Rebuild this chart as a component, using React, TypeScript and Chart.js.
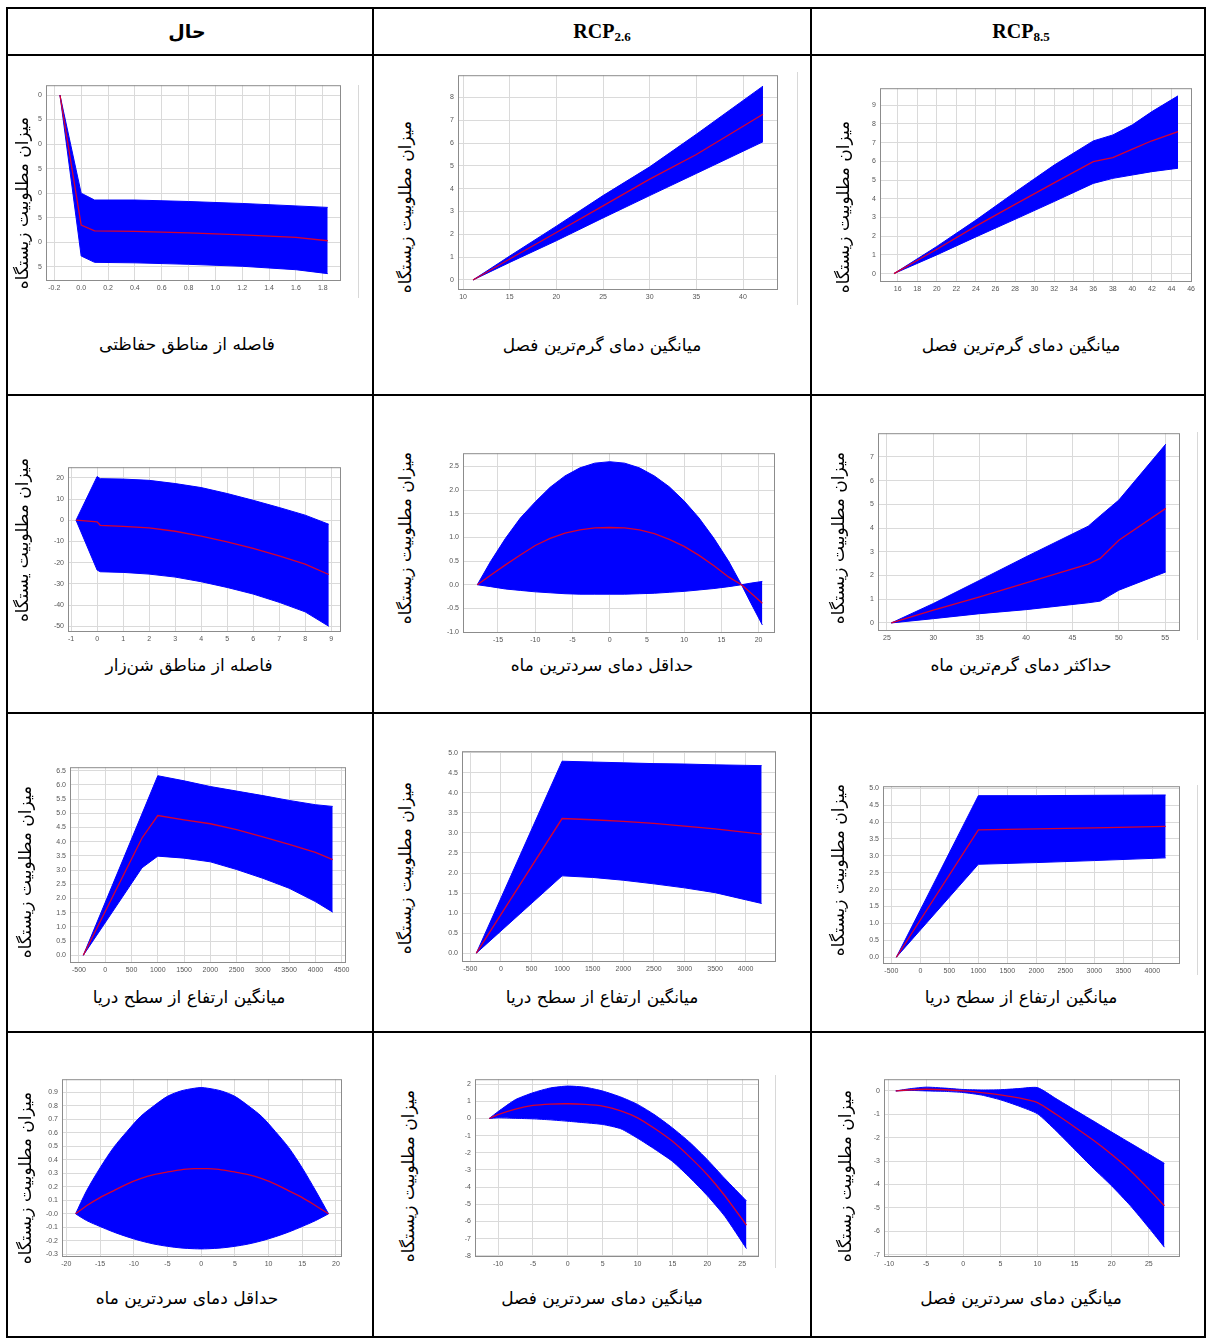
import React, { useEffect, useRef } from 'react';
import { Chart, registerables } from 'chart.js';
Chart.register(...registerables);

// ---------------- DATA ----------------
// Panel 1: distance from protected areas (present)
const c1X = [-0.158, 0.0, 0.1, 0.4, 0.8, 1.2, 1.6, 1.837];
const c1Upper = [2.0, 0.0, -0.14, -0.14, -0.17, -0.21, -0.26, -0.29];
const c1Mean = [2.0, -0.65, -0.77, -0.78, -0.81, -0.85, -0.9, -0.97];
const c1Lower = [2.0, -1.28, -1.41, -1.42, -1.45, -1.49, -1.56, -1.64];
const c1XTicks = [-0.2, 0, 0.2, 0.4, 0.6, 0.8, 1.0, 1.2, 1.4, 1.6, 1.8];
const c1YTicks = [-1.5, -1, -0.5, 0, 0.5, 1, 1.5, 2];
const c1YLabels = ['5', '0', '5', '0', '5', '0', '5', '0'];

// Panel 2: mean temp warmest quarter (RCP2.6)
const c2X = [11.07, 15, 20, 25, 30, 35, 42.14];
const c2Upper = [0, 1.05, 2.36, 3.7, 4.96, 6.39, 8.5];
const c2Mean = [0, 0.92, 2.08, 3.25, 4.42, 5.5, 7.27];
const c2Lower = [0, 0.77, 1.72, 2.72, 3.7, 4.67, 6.06];
const c2XTicks = [10, 15, 20, 25, 30, 35, 40];
const c2YTicks = [0, 1, 2, 3, 4, 5, 6, 7, 8];

// Panel 3: mean temp warmest quarter (RCP8.5)
const c3X = [15.62, 20, 24, 28, 32, 36, 38, 40, 42, 44.67];
const c3Upper = [0, 1.45, 2.86, 4.35, 5.8, 7.09, 7.41, 7.95, 8.66, 9.5];
const c3Mean = [0, 1.3, 2.54, 3.7, 4.85, 5.98, 6.2, 6.65, 7.1, 7.59];
const c3Lower = [0, 1.0, 1.96, 2.9, 3.85, 4.82, 5.09, 5.27, 5.45, 5.63];
const c3XTicks = [16, 18, 20, 22, 24, 26, 28, 30, 32, 34, 36, 38, 40, 42, 44, 46];
const c3YTicks = [0, 1, 2, 3, 4, 5, 6, 7, 8, 9];

// Panel 4: distance from sand areas (present)
const c4X = [-0.81, 0, 0.12, 1, 2, 3, 4, 5, 6, 7, 8, 8.91];
const c4Upper = [0, 20.6, 19.6, 19.4, 18.8, 17.3, 15.4, 12.6, 9.4, 6.0, 2.4, -1.9];
const c4Mean = [0, -0.8, -2.4, -2.9, -3.6, -5.2, -7.5, -10.2, -13.3, -16.8, -20.7, -25.6];
const c4Lower = [0, -23.5, -24.3, -24.6, -25.4, -26.8, -29, -31.7, -34.8, -38.7, -43.2, -50];
const c4XTicks = [-1, 0, 1, 2, 3, 4, 5, 6, 7, 8, 9];
const c4YTicks = [-50, -40, -30, -20, -10, 0, 10, 20];

// Panel 5: min temp coldest month (RCP2.6)
const c5X = [-17.78, -16, -14, -12, -10, -8, -6, -4, -2, 0, 2, 4, 6, 8, 10, 12, 14, 16, 17.7, 19, 20.5];
const c5Upper = [0, 0.49, 0.98, 1.41, 1.75, 2.06, 2.3, 2.47, 2.57, 2.6, 2.57, 2.47, 2.3, 2.07, 1.77, 1.41, 0.98, 0.49, 0, 0.035, 0.07];
const c5Mean = [0, 0.2, 0.42, 0.63, 0.83, 0.98, 1.09, 1.16, 1.2, 1.21, 1.2, 1.16, 1.08, 0.96, 0.81, 0.62, 0.4, 0.16, 0, -0.18, -0.39];
const c5Lower = [0, -0.04, -0.09, -0.12, -0.15, -0.17, -0.19, -0.2, -0.2, -0.2, -0.2, -0.19, -0.18, -0.16, -0.14, -0.11, -0.08, -0.04, 0, -0.4, -0.85];
const c5XTicks = [-15, -10, -5, 0, 5, 10, 15, 20];
const c5YTicks = [-1, -0.5, 0, 0.5, 1, 1.5, 2, 2.5];

// Panel 6: max temp warmest month (RCP8.5)
const c6X = [25.47, 30, 35, 40, 46.7, 48, 50, 55.07];
const c6Upper = [0, 0.82, 1.8, 2.79, 4.08, 4.52, 5.18, 7.54];
const c6Mean = [0, 0.54, 1.1, 1.69, 2.48, 2.72, 3.49, 4.83];
const c6Lower = [0, 0.18, 0.39, 0.56, 0.85, 0.92, 1.38, 2.15];
const c6XTicks = [25, 30, 35, 40, 45, 50, 55];
const c6YTicks = [0, 1, 2, 3, 4, 5, 6, 7];

// Panel 7: mean elevation (present)
const c7X = [-418, 700, 1000, 1500, 2000, 2500, 3000, 3500, 4000, 4329];
const c7Upper = [0, 4.98, 6.32, 6.14, 5.94, 5.78, 5.62, 5.45, 5.3, 5.24];
const c7Mean = [0, 4.13, 4.92, 4.77, 4.63, 4.42, 4.17, 3.9, 3.62, 3.37];
const c7Lower = [0, 3.08, 3.49, 3.42, 3.29, 3.02, 2.71, 2.36, 1.89, 1.52];
const c7XTicks = [-500, 0, 500, 1000, 1500, 2000, 2500, 3000, 3500, 4000, 4500];
const c7YTicks = [0, 0.5, 1, 1.5, 2, 2.5, 3, 3.5, 4, 4.5, 5, 5.5, 6, 6.5];

// Panel 8: mean elevation (RCP2.6)
const c8X = [-402, 1000, 1500, 2000, 2500, 3000, 3500, 4262];
const c8Upper = [0, 4.79, 4.77, 4.75, 4.73, 4.72, 4.7, 4.68];
const c8Mean = [0, 3.36, 3.33, 3.29, 3.24, 3.17, 3.1, 2.97];
const c8Lower = [0, 1.93, 1.89, 1.82, 1.73, 1.63, 1.51, 1.24];
const c8XTicks = [-500, 0, 500, 1000, 1500, 2000, 2500, 3000, 3500, 4000];
const c8YTicks = [0, 0.5, 1, 1.5, 2, 2.5, 3, 3.5, 4, 4.5, 5];

// Panel 9: mean elevation (RCP8.5)
const c9X = [-414, 1000, 2000, 3000, 4230];
const c9Upper = [0, 4.78, 4.78, 4.79, 4.8];
const c9Mean = [0, 3.77, 3.8, 3.83, 3.87];
const c9Lower = [0, 2.75, 2.8, 2.86, 2.94];
const c9XTicks = [-500, 0, 500, 1000, 1500, 2000, 2500, 3000, 3500, 4000];
const c9YTicks = [0, 0.5, 1, 1.5, 2, 2.5, 3, 3.5, 4, 4.5, 5];

// Panel 10: min temp coldest month (present)
const c10X = [-18.62, -17, -15, -13, -11, -9, -7, -5, -3, -1, 0, 1, 3, 5, 7, 9, 11, 13, 15, 17, 18.9];
const c10Upper = [0, 0.17, 0.34, 0.49, 0.61, 0.72, 0.8, 0.87, 0.91, 0.93, 0.935, 0.93, 0.91, 0.87, 0.8, 0.72, 0.61, 0.49, 0.34, 0.17, 0];
const c10Mean = [0, 0.06, 0.12, 0.17, 0.22, 0.26, 0.29, 0.31, 0.326, 0.334, 0.335, 0.334, 0.326, 0.31, 0.29, 0.26, 0.22, 0.17, 0.12, 0.06, 0];
const c10Lower = [0, -0.05, -0.094, -0.135, -0.17, -0.2, -0.224, -0.241, -0.253, -0.259, -0.26, -0.259, -0.253, -0.241, -0.224, -0.2, -0.17, -0.135, -0.094, -0.05, 0];
const c10XTicks = [-20, -15, -10, -5, 0, 5, 10, 15, 20];
const c10YTicks = [-0.3, -0.2, -0.1, 0, 0.1, 0.2, 0.3, 0.4, 0.5, 0.6, 0.7, 0.8, 0.9];
const c10YLabels = ['-0.3', '-0.2', '-0.1', '-0.0', '0.1', '0.2', '0.3', '0.4', '0.5', '0.6', '0.7', '0.8', '0.9'];

// Panel 11: mean temp coldest quarter (RCP2.6)
const c11X = [-11.27, -10, -7.5, -5, -2.5, 0, 2.5, 5, 7.6, 10, 12.5, 15, 17.5, 20, 22.5, 25.6];
const c11Upper = [0, 0.4, 1.1, 1.5, 1.78, 1.89, 1.82, 1.6, 1.25, 0.82, 0.2, -0.55, -1.4, -2.4, -3.5, -4.8];
const c11Mean = [0, 0.23, 0.55, 0.76, 0.84, 0.86, 0.82, 0.72, 0.45, 0.04, -0.6, -1.33, -2.25, -3.28, -4.5, -6.21];
const c11Lower = [0, 0.04, 0.01, -0.02, -0.08, -0.16, -0.25, -0.35, -0.6, -1.15, -1.8, -2.5, -3.45, -4.5, -5.7, -7.58];
const c11XTicks = [-10, -5, 0, 5, 10, 15, 20, 25];
const c11YTicks = [-8, -7, -6, -5, -4, -3, -2, -1, 0, 1, 2];

// Panel 12: mean temp coldest quarter (RCP8.5)
const c12X = [-9.08, -7, -5, -2.5, 0, 2.5, 5, 7.5, 10, 12.5, 15, 17.5, 20, 22.5, 25, 27.1];
const c12Upper = [0, 0.1, 0.16, 0.12, 0.06, 0.04, 0.05, 0.1, 0.14, -0.33, -0.81, -1.28, -1.76, -2.23, -2.7, -3.1];
const c12Mean = [0, 0.05, 0.07, 0.05, 0, -0.07, -0.17, -0.3, -0.5, -1.0, -1.54, -2.1, -2.72, -3.4, -4.2, -4.91];
const c12Lower = [0, 0.02, 0, -0.02, -0.07, -0.18, -0.38, -0.65, -0.98, -1.7, -2.5, -3.3, -4.06, -4.9, -5.85, -6.68];
const c12XTicks = [-10, -5, 0, 5, 10, 15, 20, 25];
const c12YTicks = [-7, -6, -5, -4, -3, -2, -1, 0];

// ---------------- TEXT ----------------
const headers = ['حال', 'RCP', 'RCP'];
const headerSubs = ['', '2.6', '8.5'];
const yTitle = 'میزان مطلوبیت زیستگاه';
const yTitleAlt = 'میزان مطلوبیت یستگاه';
const captions = [
  'فاصله از مناطق حفاظتی', 'میانگین دمای گرم‌ترین فصل', 'میانگین دمای گرم‌ترین فصل',
  'فاصله از مناطق شن‌زار', 'حداقل دمای سردترین ماه', 'حداکثر دمای گرم‌ترین ماه',
  'میانگین ارتفاع از سطح دریا', 'میانگین ارتفاع از سطح دریا', 'میانگین ارتفاع از سطح دریا',
  'حداقل دمای سردترین ماه', 'میانگین دمای سردترین فصل', 'میانگین دمای سردترین فصل',
];

// ---------------- LAYOUT ----------------
const YW = 22; // y-axis strip width
const XH = 14; // x-axis strip height
const P = 8;   // layout padding

type Spec = {
  x: number[]; up: number[]; mean: number[]; low: number[];
  xTicks: number[]; yTicks: number[]; yLabels?: string[];
  xDec: number; yDec: number;
  xMin: number; xMax: number; yMin: number; yMax: number;
  frame: [number, number, number, number];
  tension: number;
};

const specs: Spec[] = [
  { x: c1X, up: c1Upper, mean: c1Mean, low: c1Lower, xTicks: c1XTicks, yTicks: c1YTicks, yLabels: c1YLabels, xDec: 1, yDec: 1, xMin: -0.262, xMax: 1.936, yMin: -1.79, yMax: 2.2, frame: [46, 85, 341, 281], tension: 0 },
  { x: c2X, up: c2Upper, mean: c2Mean, low: c2Lower, xTicks: c2XTicks, yTicks: c2YTicks, xDec: 0, yDec: 0, xMin: 9.46, xMax: 43.75, yMin: -0.44, yMax: 8.98, frame: [458, 75, 778, 290], tension: 0 },
  { x: c3X, up: c3Upper, mean: c3Mean, low: c3Lower, xTicks: c3XTicks, yTicks: c3YTicks, xDec: 0, yDec: 0, xMin: 14.19, xMax: 46.1, yMin: -0.45, yMax: 9.91, frame: [880, 88, 1192, 282], tension: 0 },
  { x: c4X, up: c4Upper, mean: c4Mean, low: c4Lower, xTicks: c4XTicks, yTicks: c4YTicks, xDec: 0, yDec: 0, xMin: -1.12, xMax: 9.38, yMin: -52.7, yMax: 25, frame: [68, 467, 341, 632], tension: 0 },
  { x: c5X, up: c5Upper, mean: c5Mean, low: c5Lower, xTicks: c5XTicks, yTicks: c5YTicks, xDec: 0, yDec: 1, xMin: -19.7, xMax: 22.2, yMin: -1.02, yMax: 2.78, frame: [463, 453, 775, 633], tension: 0 },
  { x: c6X, up: c6Upper, mean: c6Mean, low: c6Lower, xTicks: c6XTicks, yTicks: c6YTicks, xDec: 0, yDec: 0, xMin: 24.03, xMax: 56.6, yMin: -0.34, yMax: 8.0, frame: [878, 433, 1180, 631], tension: 0 },
  { x: c7X, up: c7Upper, mean: c7Mean, low: c7Lower, xTicks: c7XTicks, yTicks: c7YTicks, xDec: 0, yDec: 1, xMin: -671, xMax: 4582, yMin: -0.27, yMax: 6.62, frame: [70, 767, 346, 963], tension: 0 },
  { x: c8X, up: c8Upper, mean: c8Mean, low: c8Lower, xTicks: c8XTicks, yTicks: c8YTicks, xDec: 0, yDec: 1, xMin: -636, xMax: 4496, yMin: -0.22, yMax: 5.04, frame: [462, 751, 776, 962], tension: 0 },
  { x: c9X, up: c9Upper, mean: c9Mean, low: c9Lower, xTicks: c9XTicks, yTicks: c9YTicks, xDec: 0, yDec: 1, xMin: -644, xMax: 4477, yMin: -0.2, yMax: 5.06, frame: [883, 786, 1180, 964], tension: 0 },
  { x: c10X, up: c10Upper, mean: c10Mean, low: c10Lower, xTicks: c10XTicks, yTicks: c10YTicks, yLabels: c10YLabels, xDec: 0, yDec: 1, xMin: -20.64, xMax: 20.9, yMin: -0.32, yMax: 0.997, frame: [62, 1079, 342, 1257], tension: 0.3 },
  { x: c11X, up: c11Upper, mean: c11Mean, low: c11Lower, xTicks: c11XTicks, yTicks: c11YTicks, xDec: 0, yDec: 0, xMin: -13.3, xMax: 27.4, yMin: -8.07, yMax: 2.29, frame: [475, 1079, 759, 1257], tension: 0.2 },
  { x: c12X, up: c12Upper, mean: c12Mean, low: c12Lower, xTicks: c12XTicks, yTicks: c12YTicks, xDec: 0, yDec: 0, xMin: -10.67, xMax: 29.2, yMin: -7.1, yMax: 0.5, frame: [884, 1079, 1180, 1257], tension: 0.2 },
];

// y-title centres and caption centres
const yTitlePos: [number, number][] = [
  [22, 203], [405, 207], [843, 207],
  [22, 540], [405, 538], [838, 538],
  [25, 872], [405, 868], [838, 870],
  [25, 1178], [408, 1176], [845, 1176],
];
const captionPos: [number, number][] = [
  [187, 344], [602, 345], [1021, 345],
  [189, 665], [602, 665], [1021, 665],
  [189, 997], [602, 997], [1021, 997],
  [187, 1298], [602, 1298], [1021, 1298],
];

const framePlugin = {
  id: 'frameBox',
  afterDatasetsDraw(chart: any) {
    const { ctx, chartArea: a } = chart;
    ctx.save();
    ctx.strokeStyle = '#8c8c8c';
    ctx.lineWidth = 1;
    ctx.strokeRect(a.left + 0.5, a.top + 0.5, a.right - a.left - 1, a.bottom - a.top - 1);
    ctx.restore();
  },
};

function Panel({ spec }: { spec: Spec }) {
  const ref = useRef<HTMLCanvasElement>(null);
  const [l, t, r, b] = spec.frame;
  const W = r - l + YW + 2 * P;
  const H = b - t + XH + 2 * P;
  useEffect(() => {
    const pts = (ys: number[]) => spec.x.map((x, i) => ({ x, y: ys[i] }));
    const curve = { tension: spec.tension };
    const chart = new Chart(ref.current!, {
      type: 'line',
      data: {
        datasets: [
          // mean first so that it is painted on top of the band
          { data: pts(spec.mean), borderColor: '#d8002e', borderWidth: 1.3, pointRadius: 0, fill: false, ...curve },
          { data: pts(spec.up), borderColor: '#0000ff', backgroundColor: '#0000ff', borderWidth: 1, pointRadius: 0, fill: '+1', ...curve },
          { data: pts(spec.low), borderColor: '#0000ff', backgroundColor: '#0000ff', borderWidth: 1, pointRadius: 0, fill: false, ...curve },
        ],
      },
      options: {
        animation: false,
        responsive: false,
        maintainAspectRatio: false,
        layout: { padding: P },
        plugins: { legend: { display: false }, tooltip: { enabled: false } },
        scales: {
          x: {
            type: 'linear', min: spec.xMin, max: spec.xMax,
            afterBuildTicks: (ax: any) => { ax.ticks = spec.xTicks.map((v) => ({ value: v })); },
            afterFit: (ax: any) => { ax.height = XH; },
            grid: { color: '#dadada', lineWidth: 1, drawTicks: false },
            border: { display: false },
            ticks: {
              autoSkip: false, maxRotation: 0, padding: 3, color: '#555',
              font: { family: 'Liberation Sans', size: 7 },
              callback: (v: any) => Number(v).toFixed(spec.xDec),
            },
          },
          y: {
            type: 'linear', min: spec.yMin, max: spec.yMax,
            afterBuildTicks: (ax: any) => { ax.ticks = spec.yTicks.map((v) => ({ value: v })); },
            afterFit: (ax: any) => { ax.width = YW; },
            grid: { color: '#dadada', lineWidth: 1, drawTicks: false },
            border: { display: false },
            ticks: {
              autoSkip: false, padding: 4, color: '#555',
              font: { family: 'Liberation Sans', size: 7 },
              callback: (v: any, i: number) => (spec.yLabels ? spec.yLabels[i] : Number(v).toFixed(spec.yDec)),
            },
          },
        },
      },
      plugins: [framePlugin],
    } as any);
    return () => chart.destroy();
  }, []);
  return (
    <canvas
      ref={ref}
      width={W}
      height={H}
      style={{ position: 'absolute', left: l - YW - P, top: t - P, width: W, height: H }}
    />
  );
}

const fa = '"DejaVu Sans", sans-serif';

function HLine({ y, x1, x2 }: { y: number; x1: number; x2: number }) {
  return <div style={{ position: 'absolute', left: x1, top: y, width: x2 - x1, height: 2, background: '#000' }} />;
}
function VLine({ x, y1, y2, color = '#000', w = 2 }: { x: number; y1: number; y2: number; color?: string; w?: number }) {
  return <div style={{ position: 'absolute', left: x, top: y1, width: w, height: y2 - y1, background: color }} />;
}

export default function App() {
  const colCenters = [187, 602, 1021];
  return (
    <div style={{ position: 'absolute', left: 0, top: 0, width: 1206, height: 1338, background: '#fff', overflow: 'hidden' }}>
      {/* table grid */}
      <HLine y={7} x1={6} x2={1206} />
      <HLine y={54} x1={6} x2={1206} />
      <HLine y={394} x1={6} x2={1206} />
      <HLine y={712} x1={6} x2={1206} />
      <HLine y={1031} x1={6} x2={1206} />
      <HLine y={1336} x1={6} x2={1206} />
      <VLine x={6} y1={7} y2={1338} />
      <VLine x={372} y1={7} y2={1338} />
      <VLine x={810} y1={7} y2={1338} />
      <VLine x={1204} y1={7} y2={1338} />

      {/* faint screenshot edges */}
      <VLine x={358} y1={85} y2={298} color="#d8d8d8" w={1} />
      <VLine x={797} y1={72} y2={305} color="#d8d8d8" w={1} />
      <VLine x={1197} y1={432} y2={640} color="#d8d8d8" w={1} />
      <VLine x={1197} y1={785} y2={975} color="#d8d8d8" w={1} />
      <VLine x={775} y1={1075} y2={1268} color="#d8d8d8" w={1} />

      {/* headers */}
      {headers.map((h, i) => (
        <div key={'h' + i} style={{
          position: 'absolute', left: colCenters[i], top: 31, transform: 'translate(-50%, -50%)',
          fontFamily: i === 0 ? fa : '"Liberation Serif", serif', fontWeight: 'bold', fontSize: i === 0 ? 19 : 20,
          whiteSpace: 'nowrap', color: '#000',
        }}>
          {h}{headerSubs[i] ? <span style={{ fontSize: 13, position: 'relative', top: 3 }}>{headerSubs[i]}</span> : null}
        </div>
      ))}

      {specs.map((s, i) => <Panel key={'p' + i} spec={s} />)}

      {yTitlePos.map(([cx, cy], i) => (
        <div key={'y' + i} dir="rtl" style={{
          position: 'absolute', left: cx, top: cy, transform: 'translate(-50%, -50%) rotate(-90deg)',
          fontFamily: fa, fontSize: 17, whiteSpace: 'nowrap', color: '#000',
        }}>{i === 3 ? yTitleAlt : yTitle}</div>
      ))}

      {captionPos.map(([cx, cy], i) => (
        <div key={'c' + i} dir="rtl" style={{
          position: 'absolute', left: cx, top: cy, transform: 'translate(-50%, -50%)',
          fontFamily: fa, fontSize: 17, whiteSpace: 'nowrap', color: '#000',
        }}>{captions[i]}</div>
      ))}
    </div>
  );
}
